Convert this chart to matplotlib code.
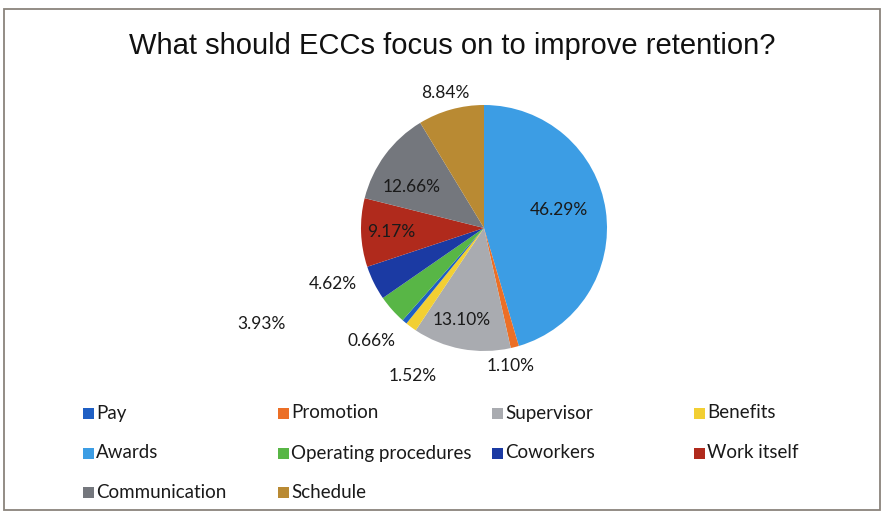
import matplotlib.pyplot as plt
from matplotlib.patches import Rectangle

# Slices in drawing order (clockwise from 12 o'clock), as they appear in the picture
slice_names = ['Awards', 'Promotion', 'Supervisor', 'Benefits', 'Pay',
               'Operating procedures', 'Coworkers', 'Work itself',
               'Communication', 'Schedule']
slice_values = [46.29, 1.10, 13.10, 1.52, 0.66, 3.93, 4.62, 9.17, 12.66, 8.84]

# Legend order
legend_names = ['Pay', 'Promotion', 'Supervisor', 'Benefits',
                'Awards', 'Operating procedures', 'Coworkers', 'Work itself',
                'Communication', 'Schedule']

colors = {
    'Pay': '#1f5fc4',
    'Promotion': '#ec6f26',
    'Supervisor': '#a9abb0',
    'Benefits': '#f2cf33',
    'Awards': '#3c9de4',
    'Operating procedures': '#58b646',
    'Coworkers': '#1b3aa3',
    'Work itself': '#b02a1c',
    'Communication': '#74777d',
    'Schedule': '#b98a33',
}

# label centres in pixel space (x, y from top)
label_pos = [(559, 210), (511, 366), (462, 320), (413, 376), (371, 341),
             (261, 324), (333, 284), (391, 232), (412, 187), (445, 93)]

W, H = 885, 512
fig = plt.figure(figsize=(W / 100, H / 100), dpi=100)
ax = fig.add_axes([0, 0, 1, 1])

cx, cy, r = 484, H - 228, 123
ax.pie(slice_values, colors=[colors[n] for n in slice_names], startangle=90,
       counterclock=False, center=(cx, cy), radius=r, normalize=True,
       wedgeprops=dict(linewidth=0), frame=True)
ax.set_xlim(0, W)
ax.set_ylim(0, H)
ax.set_aspect('equal')
ax.axis('off')

lab_font = 'Lato'
for v, (lx, ly) in zip(slice_values, label_pos):
    ax.text(lx, H - ly, f'{v:.2f}%', ha='center', va='center',
            fontsize=12.5, family=lab_font, color='#1a1a1a')

# title
ax.text(452, H - 46, 'What should ECCs focus on to improve retention?',
        ha='center', va='center', fontsize=21, family='Liberation Sans',
        color='#111111')

# legend, 4 columns x 3 rows
col_x = [83, 278, 492, 694]
row_y = [413, 453, 492]
for i, name in enumerate(legend_names):
    x = col_x[i % 4]
    y = H - row_y[i // 4]
    ax.add_patch(Rectangle((x, y - 5.5), 11, 11, color=colors[name], lw=0))
    ax.text(x + 13, y, name, ha='left', va='center', fontsize=13.5,
            family=lab_font, color='#1a1a1a')

# frame around the chart
ax.add_patch(Rectangle((4, 2), 876, H - 11, fill=False, edgecolor='#8a837c',
                       linewidth=1.3))

fig.savefig('out.png', dpi=100)
